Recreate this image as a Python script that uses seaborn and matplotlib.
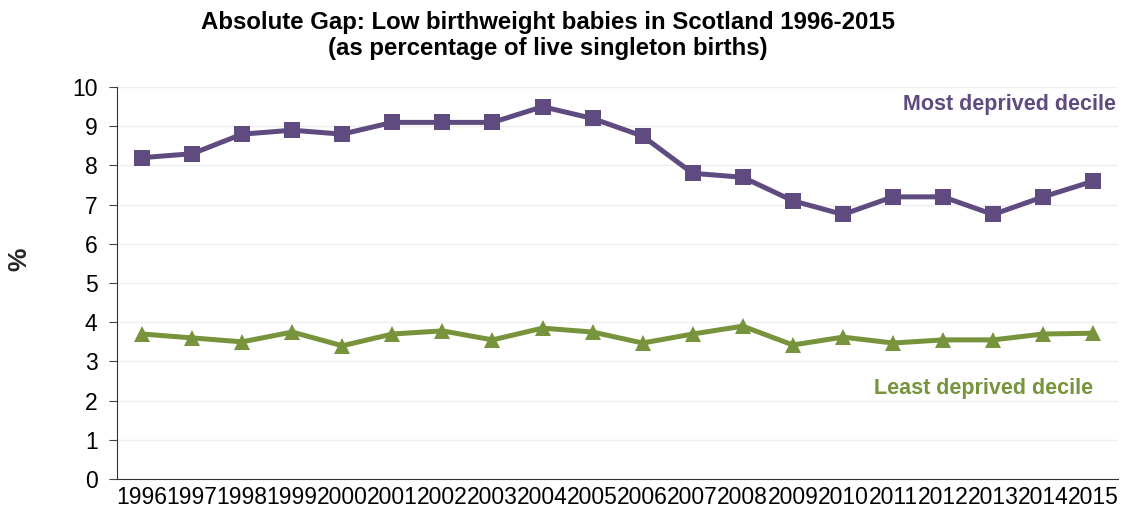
import numpy as np
import pandas as pd
import matplotlib
matplotlib.use("Agg")
import matplotlib.pyplot as plt
import seaborn as sns
from matplotlib.ticker import FixedLocator

# data
years = [str(y) for y in range(1996, 2016)]
most_deprived = [8.2, 8.3, 8.8, 8.9, 8.8, 9.1, 9.1, 9.1, 9.5, 9.2,
                 8.75, 7.8, 7.7, 7.1, 6.75, 7.2, 7.2, 6.75, 7.2, 7.6]
least_deprived = [3.7, 3.6, 3.5, 3.75, 3.4, 3.7, 3.78, 3.55, 3.85, 3.75,
                  3.47, 3.7, 3.9, 3.42, 3.62, 3.47, 3.55, 3.55, 3.7, 3.72]

purple = "#5F4B7F"
green = "#77933C"

sns.set_style("white")
plt.rcParams['font.family'] = ['Liberation Sans', 'DejaVu Sans']
plt.rcParams['text.color'] = 'black'
plt.rcParams['xtick.color'] = 'black'
plt.rcParams['ytick.color'] = 'black'

df = pd.DataFrame({
    "pos": list(range(len(years))) * 2,
    "value": most_deprived + least_deprived,
    "group": ["Most deprived decile"] * len(years) + ["Least deprived decile"] * len(years),
})

fig = plt.figure(figsize=(11.25, 5.17), dpi=100)
ax = fig.add_axes([0.104, 0.0735, 0.890, 0.758])

sns.lineplot(data=df, x="pos", y="value", hue="group", style="group",
             palette={"Most deprived decile": purple, "Least deprived decile": green},
             markers={"Most deprived decile": "s", "Least deprived decile": "^"},
             dashes=False, linewidth=3.6, markersize=11, markeredgewidth=0,
             legend=False, ax=ax)

ax.set_xlim(-0.5, len(years) - 0.5)
ax.set_ylim(0, 10)
ax.set_yticks(range(0, 11))
ax.set_xticks(range(len(years)))
ax.set_xticklabels(years, fontsize=16.5)
ax.tick_params(axis="x", which="major", length=0, pad=5)
ax.xaxis.set_minor_locator(FixedLocator(np.arange(-0.5, len(years), 1)))
ax.tick_params(axis="x", which="minor", length=6, color="#444444", width=1)
ax.tick_params(axis="y", labelsize=16.5, length=6, color="#444444", left=True, pad=8)
ax.grid(axis="y", color="#EFEFEF", linewidth=1)
ax.set_axisbelow(True)

for side in ["top", "right"]:
    ax.spines[side].set_visible(False)
ax.spines["left"].set_color("#333333")
ax.spines["bottom"].set_color("#333333")

ax.set_xlabel("")
ax.set_ylabel("%", fontsize=19, fontweight="bold")
ax.yaxis.set_label_coords(-0.086, 0.56)

ax.text(19.45, 9.55, "Most deprived decile", color=purple, fontsize=15.5,
        fontweight="bold", ha="right", va="center")
ax.text(19.0, 2.32, "Least deprived decile", color=green, fontsize=15.5,
        fontweight="bold", ha="right", va="center")

fig.suptitle("Absolute Gap: Low birthweight babies in Scotland 1996-2015\n(as percentage of live singleton births)",
             x=0.487, y=0.978, fontsize=17.3, fontweight="bold", linespacing=1.12)

fig.savefig("out.png", dpi=100)
